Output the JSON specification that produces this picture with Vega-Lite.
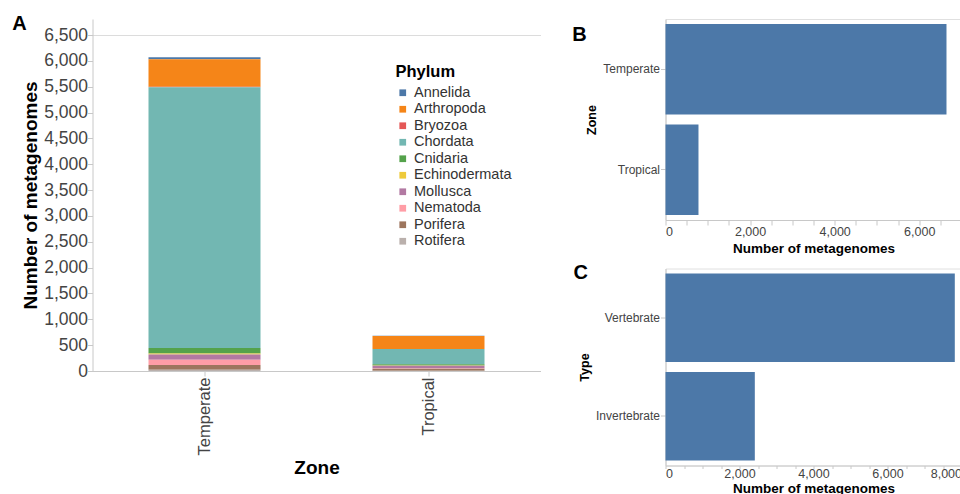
{
  "$schema": "https://vega.github.io/schema/vega-lite/v6.json",
  "background": "white",
  "padding": {"left": 11.5, "top": 14, "right": 0, "bottom": 0},
  "config": {
    "font": "Liberation Sans",
    "view": {"stroke": "#e0e0e0"},
    "axis": {"grid": false, "labelColor": "#444", "titleColor": "#000", "domainColor": "#c8c8c8", "tickColor": "#c8c8c8"},
    "title": {"fontWeight": "bold", "color": "#000"}
  },
  "datasets": {
    "phylum": [
      {"Zone": "Temperate", "Phylum": "Annelida", "Count": 38},
      {"Zone": "Temperate", "Phylum": "Arthropoda", "Count": 536},
      {"Zone": "Temperate", "Phylum": "Bryozoa", "Count": 5},
      {"Zone": "Temperate", "Phylum": "Chordata", "Count": 5045},
      {"Zone": "Temperate", "Phylum": "Cnidaria", "Count": 107},
      {"Zone": "Temperate", "Phylum": "Echinodermata", "Count": 20},
      {"Zone": "Temperate", "Phylum": "Mollusca", "Count": 103},
      {"Zone": "Temperate", "Phylum": "Nematoda", "Count": 102},
      {"Zone": "Temperate", "Phylum": "Porifera", "Count": 90},
      {"Zone": "Temperate", "Phylum": "Rotifera", "Count": 25},
      {"Zone": "Tropical", "Phylum": "Annelida", "Count": 5},
      {"Zone": "Tropical", "Phylum": "Arthropoda", "Count": 250},
      {"Zone": "Tropical", "Phylum": "Bryozoa", "Count": 3},
      {"Zone": "Tropical", "Phylum": "Chordata", "Count": 295},
      {"Zone": "Tropical", "Phylum": "Cnidaria", "Count": 25},
      {"Zone": "Tropical", "Phylum": "Echinodermata", "Count": 5},
      {"Zone": "Tropical", "Phylum": "Mollusca", "Count": 45},
      {"Zone": "Tropical", "Phylum": "Nematoda", "Count": 10},
      {"Zone": "Tropical", "Phylum": "Porifera", "Count": 40},
      {"Zone": "Tropical", "Phylum": "Rotifera", "Count": 5}
    ],
    "zone": [
      {"Zone": "Temperate", "Count": 6645},
      {"Zone": "Tropical", "Count": 780}
    ],
    "type": [
      {"Type": "Vertebrate", "Count": 7819},
      {"Type": "Invertebrate", "Count": 2414}
    ]
  },
  "hconcat": [
    {
      "title": {"text": "A", "anchor": "start", "frame": "bounds", "fontSize": 20, "baseline": "top", "dx": -9.5, "offset": -15},
      "width": 448,
      "height": 352,
      "view": {"stroke": null},
      "data": {"name": "phylum"},
      "mark": {"type": "bar"},
      "encoding": {
        "x": {"field": "Zone", "type": "nominal", "scale": {"paddingInner": 0.5, "paddingOuter": 0.25},
              "axis": {"labelAngle": -90, "labelFontSize": 16.5, "labelPadding": 1, "titleFontSize": 19, "title": "Zone", "titlePadding": 4}},
        "y": {"field": "Count", "type": "quantitative", "scale": {"domain": [0, 6810], "nice": false},
              "axis": {"values": [0,500,1000,1500,2000,2500,3000,3500,4000,4500,5000,5500,6000,6500], "labelFontSize": 17.5, "labelPadding": 0, "titleFontSize": 19, "title": "Number of metagenomes", "titlePadding": 3,
                       "grid": true, "gridColor": "#dcdcdc", "gridOpacity": {"condition": {"test": "datum.value == 6500", "value": 1}, "value": 0}}},
        "color": {"field": "Phylum", "type": "nominal",
                  "legend": {"orient": "none", "legendX": 303, "legendY": 45, "title": "Phylum", "titleFontSize": 16.5, "labelFontSize": 14.5, "rowPadding": 1.5, "symbolType": "square", "symbolSize": 45, "labelColor": "#333", "titleColor": "#000"}}
      }
    },
    {
      "vconcat": [
        {
          "title": {"text": "B", "anchor": "start", "frame": "bounds", "fontSize": 20, "baseline": "top", "dx": -13.5, "offset": -26},
          "width": 296,
          "height": 201,
          "data": {"name": "zone"},
          "mark": {"type": "bar", "color": "#4c78a8"},
          "encoding": {
            "y": {"field": "Zone", "type": "nominal", "axis": {"labelFontSize": 12, "labelPadding": 1, "titleFontSize": 12.5, "title": "Zone", "titlePadding": 4}},
            "x": {"field": "Count", "type": "quantitative", "scale": {"domain": [0, 7000]},
                  "axis": {"values": [0,500,1000,1500,2000,2500,3000,3500,4000,4500,5000,5500,6000,6500,7000], "labelExpr": "datum.value % 2000 == 0 ? format(datum.value, ',') : ''", "labelFontSize": 12.5, "labelPadding": 0, "titleFontSize": 13.5, "title": "Number of metagenomes", "titlePadding": 4}}
          }
        },
        {
          "title": {"text": "C", "anchor": "start", "frame": "bounds", "fontSize": 20, "baseline": "top", "dx": -5, "offset": -14},
          "width": 296,
          "height": 197,
          "data": {"name": "type"},
          "mark": {"type": "bar", "color": "#4c78a8"},
          "encoding": {
            "y": {"field": "Type", "type": "nominal", "sort": ["Vertebrate", "Invertebrate"], "axis": {"labelFontSize": 12, "labelPadding": 1, "titleFontSize": 12.5, "title": "Type", "titlePadding": 4}},
            "x": {"field": "Count", "type": "quantitative", "scale": {"domain": [0, 8000]},
                  "axis": {"values": [0,500,1000,1500,2000,2500,3000,3500,4000,4500,5000,5500,6000,6500,7000,7500,8000], "labelExpr": "datum.value % 2000 == 0 ? format(datum.value, ',') : ''", "labelFontSize": 12.5, "tickSize": 3, "labelPadding": -1, "titleFontSize": 13.5, "title": "Number of metagenomes", "titlePadding": 1}}
          }
        }
      ],
      "spacing": 5.5
    }
  ],
  "spacing": 31
}
